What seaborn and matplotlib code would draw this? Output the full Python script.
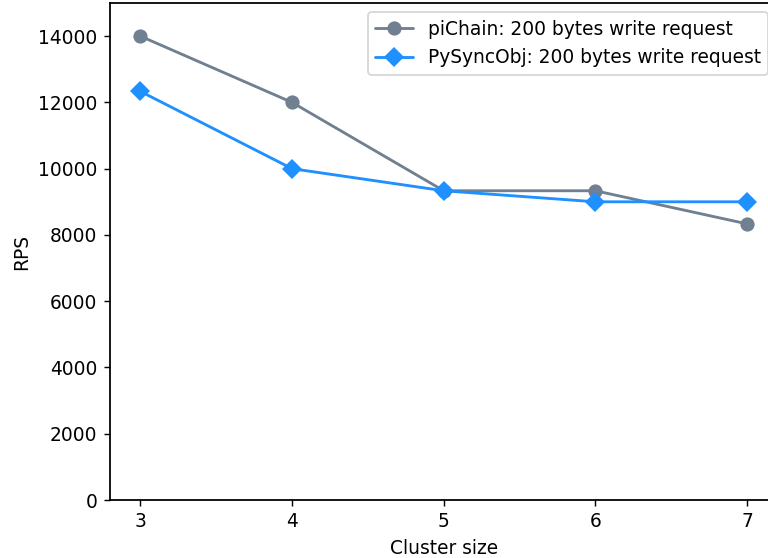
import pandas as pd
import matplotlib
matplotlib.use("Agg")
import matplotlib.pyplot as plt
import seaborn as sns

# Dados
cluster_size = [3, 4, 5, 6, 7]
pichain_rps = [14000, 12000, 9333, 9333, 8333]
pysyncobj_rps = [12333, 10000, 9333, 9000, 9000]

df = pd.DataFrame({
    "Cluster size": cluster_size * 2,
    "RPS": pichain_rps + pysyncobj_rps,
    "serie": ["piChain: 200 bytes write request"] * 5 + ["PySyncObj: 200 bytes write request"] * 5,
})

sns.set_style("ticks")
plt.rcParams["font.family"] = ["DejaVu Sans"]
plt.rcParams["font.size"] = 10.5
plt.rcParams["text.color"] = "black"
plt.rcParams["axes.labelcolor"] = "black"
plt.rcParams["xtick.color"] = "black"
plt.rcParams["ytick.color"] = "black"

dpi = 128
fig = plt.figure(figsize=(768 / dpi, 558 / dpi), dpi=dpi)
# eixo com a borda direita fora da figura (como no original recortado)
ax = fig.add_axes([110 / 768, 58 / 558, 667.5 / 768, 497 / 558])

paleta = {"piChain: 200 bytes write request": "#708090",
          "PySyncObj: 200 bytes write request": "#1E90FF"}
sns.lineplot(data=df, x="Cluster size", y="RPS", hue="serie", style="serie",
             markers={"piChain: 200 bytes write request": "o",
                      "PySyncObj: 200 bytes write request": "D"},
             dashes=False, palette=paleta, markersize=8, markeredgewidth=0,
             linewidth=1.6, ax=ax)

ax.set_xlim(2.8, 7.2)
ax.set_ylim(0, 15000)
ax.set_xticks(cluster_size)
ax.set_yticks(range(0, 15000, 2000))
ax.set_xlabel("Cluster size")
ax.set_ylabel("RPS")
for s in ax.spines.values():
    s.set_color("black")
    s.set_linewidth(1.0)
ax.tick_params(colors="black", direction="out", length=3.5, width=0.8)
leg = ax.legend(title=None, loc="upper right", frameon=True, edgecolor="#cccccc")
for t in leg.get_texts():
    t.set_color("black")

fig.savefig("out.png", dpi=dpi)
